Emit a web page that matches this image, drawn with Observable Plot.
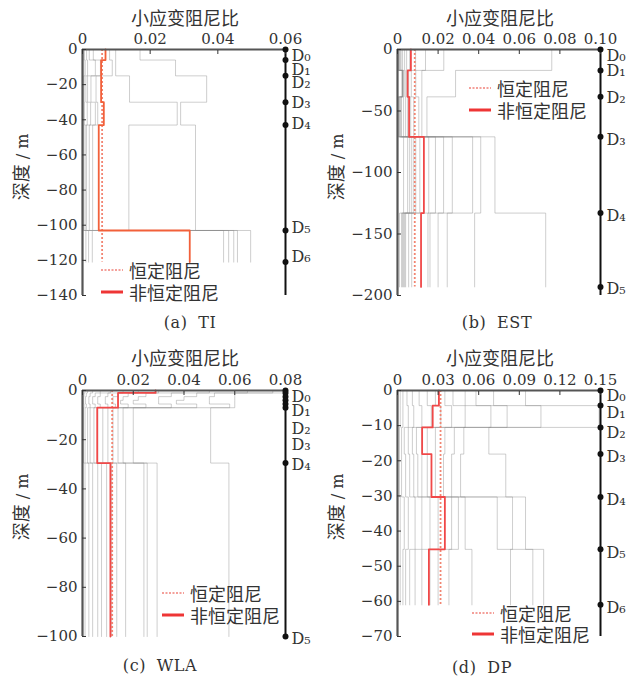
<!DOCTYPE html>
<html><head><meta charset="utf-8">
<script src="https://cdn.jsdelivr.net/npm/d3@7"></script>
<script src="https://cdn.jsdelivr.net/npm/@observablehq/plot@0.6"></script>
<style>
body{margin:0;background:#fff;}
#root{position:relative;width:631px;height:678px;overflow:hidden;background:#fff;}
.panel{position:absolute;}
.title{position:absolute;font-family:"Noto Sans CJK SC";font-size:18px;color:#333;transform:translate(-50%,-50%);white-space:nowrap;}
.ylab{position:absolute;font-family:"DejaVu Serif","Noto Sans CJK SC";font-size:16px;color:#333;transform:translate(-50%,-50%) rotate(-90deg);white-space:nowrap;}
.ylab .cjk{font-family:"Noto Sans CJK SC";font-size:18px;}
.cap{position:absolute;font-family:"DejaVu Serif";font-size:16px;color:#333;transform:translate(-50%,-50%);white-space:nowrap;word-spacing:5px;letter-spacing:0.6px;}
.leg{position:absolute;display:flex;align-items:center;font-family:"Noto Sans CJK SC";font-size:18px;color:#333;white-space:nowrap;transform:translateY(-50%);}
.leg svg{margin-right:6px;}
</style></head><body><div id="root"></div>
<script>
// ---------- (a) TI ----------
const tiBounds = [0, 6, 15, 30, 43, 103, 121];
const tiProfiles = [
  [0.017, 0.0275, 0.0367, 0.029, 0.0334, 0.0497],
  [0.0098, 0.0098, 0.0139, 0.028, 0.0137, 0.0458],
  [0.008, 0.0088, 0.004, 0.0045, 0.003, 0.0447],
  [0.0032, 0.0053, 0.0025, 0.0038, 0.002, 0.0432],
  [0.002, 0.0038, 0.0015, 0.0024, 0.0012, 0.0417],
  [0.0012, 0.0015, 0.001, 0.0014, 0.0008, 0.0029],
  [0.0006, 0.0008, 0.0005, 0.0006, 0.0004, 0.0018],
  [0.0003, 0.0004, 0.0003, 0.0003, 0.0002, 0.001]
];
const tiNonConst = [0.0068, 0.0055, 0.0055, 0.0063, 0.0048, 0.0317];
const tiConst = 0.0058;
const tiXTicks = [0, 0.02, 0.04, 0.06];
const tiYTicks = [0, -20, -40, -60, -80, -100, -120, -140];
const tiDDepths = [0, 6, 15, 30, 43, 103, 121];
const tiDLabelDepths = [2.7, 10.6, 18, 29.4, 41.4, 100.6, 117];
const tiDLabels = ["D₀", "D₁", "D₂", "D₃", "D₄", "D₅", "D₆"];

// ---------- (b) EST ----------
const estBounds = [0, 17, 38.5, 71, 133, 193];
const estProfiles = [
  [0.076, 0.0286, 0.0145, 0.048, 0.073],
  [0.0228, 0.012, 0.012, 0.041, 0.038],
  [0.0138, 0.009, 0.0105, 0.037, 0.0245],
  [0.0089, 0.0068, 0.008, 0.027, 0.02],
  [0.006, 0.0055, 0.0065, 0.0227, 0.016],
  [0.0045, 0.0045, 0.005, 0.0187, 0.015],
  [0.0035, 0.0038, 0.004, 0.0154, 0.007],
  [0.0025, 0.0032, 0.003, 0.011, 0.0055],
  [0.0018, 0.0028, 0.002, 0.009, 0.004],
  [0.0014, 0.0026, 0.0016, 0.008, 0.0035],
  [0.001, 0.0025, 0.0012, 0.007, 0.003],
  [0.0007, 0.0024, 0.0009, 0.006, 0.0025],
  [0.0005, 0.0023, 0.0006, 0.005, 0.002],
  [0.0002, 0.0023, 0.0002, 0.003, 0.001]
];
const estNonConst = [0.0066, 0.005, 0.0057, 0.013, 0.0116];
const estConst = 0.0085;
const estXTicks = [0, 0.02, 0.04, 0.06, 0.08, 0.10];
const estYTicks = [0, -50, -100, -150, -200];
const estDDepths = [0, 17, 38.5, 71, 133, 193];
const estDLabelDepths = [3.3, 15.4, 37.4, 71.5, 134, 193];
const estDLabels = ["D₀", "D₁", "D₂", "D₃", "D₄", "D₅"];

// ---------- (c) WLA ----------
const wlaBounds = [0, 1, 2.5, 4, 5.5, 7, 29.5, 100];
const wlaProfiles = [
  [0.08, 0.06, 0.06, 0.06, 0.06, 0.0505, 0.0577],
  [0.075, 0.052, 0.05, 0.05, 0.058, 0.02, 0.0294],
  [0.065, 0.045, 0.04, 0.037, 0.045, 0.016, 0.0255],
  [0.05, 0.035, 0.03, 0.03, 0.035, 0.014, 0.0242],
  [0.04, 0.025, 0.022, 0.02, 0.025, 0.012, 0.017],
  [0.03, 0.018, 0.016, 0.015, 0.018, 0.01, 0.0135],
  [0.022, 0.014, 0.012, 0.012, 0.013, 0.008, 0.0115],
  [0.016, 0.01, 0.009, 0.009, 0.01, 0.006, 0.0095],
  [0.011, 0.007, 0.006, 0.006, 0.007, 0.0045, 0.0075],
  [0.007, 0.005, 0.004, 0.004, 0.005, 0.003, 0.006],
  [0.004, 0.003, 0.0025, 0.0025, 0.003, 0.002, 0.004],
  [0.002, 0.0015, 0.0012, 0.0012, 0.0015, 0.001, 0.0025],
  [0.001, 0.0006, 0.0005, 0.0005, 0.0006, 0.0004, 0.001]
];
const wlaNonConst = [0.0288, 0.014, 0.014, 0.014, 0.014, 0.0058, 0.011];
const wlaConst = 0.0117;
const wlaXTicks = [0, 0.02, 0.04, 0.06, 0.08];
const wlaYTicks = [0, -20, -40, -60, -80, -100];
const wlaDDepths = [0, 1, 2.5, 4, 5.5, 7, 29.5, 100];
const wlaDLabelDepths = [1.6, 7.4, 14.9, 21.2, 29.5, 100];
const wlaDLabels = ["D₀", "D₁", "D₂", "D₃", "D₄", "D₅"];

// ---------- (d) DP ----------
const dpBounds = [0, 4.3, 10.5, 18.1, 30.3, 45.2, 61];
const dpProfiles = [
  [0.0946, 0.149, 0.0675, 0.08, 0.0946, 0.108],
  [0.071, 0.106, 0.049, 0.0466, 0.0737, 0.1],
  [0.058, 0.081, 0.042, 0.04, 0.085, 0.0835],
  [0.05, 0.069, 0.035, 0.034, 0.05, 0.055],
  [0.041, 0.05, 0.028, 0.028, 0.045, 0.038],
  [0.035, 0.04, 0.022, 0.022, 0.04, 0.03],
  [0.028, 0.032, 0.018, 0.018, 0.03, 0.024],
  [0.022, 0.025, 0.014, 0.015, 0.024, 0.018],
  [0.016, 0.018, 0.011, 0.012, 0.018, 0.013],
  [0.011, 0.012, 0.008, 0.009, 0.013, 0.009],
  [0.007, 0.008, 0.005, 0.006, 0.008, 0.006],
  [0.004, 0.004, 0.003, 0.003, 0.005, 0.004],
  [0.002, 0.002, 0.0015, 0.0015, 0.002, 0.002]
];
const dpNonConst = [0.0306, 0.026, 0.0182, 0.0251, 0.035, 0.0232];
const dpConst = 0.0318;
const dpXTicks = [0, 0.03, 0.06, 0.09, 0.12, 0.15];
const dpYTicks = [0, -10, -20, -30, -40, -50, -60, -70];
const dpDDepths = [0, 4.3, 10.5, 18.1, 30.3, 45.2, 61];
const dpDLabelDepths = [0.9, 5.7, 11.4, 18.3, 30.6, 45.7, 61.4];
const dpDLabels = ["D₀", "D₁", "D₂", "D₃", "D₄", "D₅", "D₆"];

// ---------- text ----------
const titleText = "小应变阻尼比";
const legendConst = "恒定阻尼";
const legendNonConst = "非恒定阻尼";
const captions = ["(a) TI", "(b) EST", "(c) WLA", "(d) DP"];

const root = document.getElementById("root");
const fmtX = d => d === 0 ? "0" : d.toFixed(2);
const fmtY = d => d === 0 ? "0" : "−" + Math.abs(d);

function addDiv(cls, html, left, top) {
  const el = document.createElement("div");
  el.className = cls;
  el.innerHTML = html;
  el.style.left = left + "px";
  el.style.top = top + "px";
  root.appendChild(el);
  return el;
}

function legendSwatch(dashed) {
  return dashed
    ? `<svg width="22" height="6"><line x1="0" y1="3" x2="22" y2="3" stroke="#f4a09a" stroke-width="2" stroke-dasharray="2,1.5"/></svg>`
    : `<svg width="22" height="6"><line x1="0" y1="3" x2="22" y2="3" stroke="#ee3535" stroke-width="3"/></svg>`;
}

function panel(o) {
  const W = o.width, H = 310, mT = o.mT, mL = 82, fw = 203, fh = 246;
  const bottom = o.bounds[o.bounds.length - 1];
  const gray = o.profiles.flatMap((vals, k) => vals.flatMap((v, i) => [
    {k, x: v, y: -o.bounds[i]}, {k, x: v, y: -o.bounds[i + 1]}
  ]));
  const red = o.nonConst.flatMap((v, i) => [
    {x: v, y: -o.bounds[i]}, {x: v, y: -o.bounds[i + 1]}
  ]);
  const xMax = o.xTicks[o.xTicks.length - 1];
  const yMin = o.yTicks[o.yTicks.length - 1];
  const svg = Plot.plot({
    width: W, height: H,
    marginTop: mT, marginLeft: mL, marginRight: W - mL - fw, marginBottom: H - mT - fh,
    style: {fontFamily: "DejaVu Serif", fontSize: "15px", color: "#333", background: "transparent", overflow: "visible"},
    x: {domain: [0, xMax]},
    y: {domain: [yMin, 0]},
    marks: [
      Plot.line(gray, {x: "x", y: "y", z: "k", stroke: "#8a8a8a", strokeOpacity: 0.42, strokeWidth: 1}),
      Plot.ruleX([o.constVal], {y1: 0, y2: -bottom, stroke: "#f28572", strokeWidth: 1.8, strokeDasharray: "2,2"}),
      Plot.line(red, {x: "x", y: "y", stroke: o.redColor, strokeWidth: 1.8}),
      Plot.ruleX([0], {stroke: "#555", strokeWidth: 2.2}),
      Plot.ruleY([0], {stroke: "#555", strokeWidth: 2}),
      Plot.ruleX([xMax], {stroke: "#111", strokeWidth: 2}),
      Plot.axisX({anchor: "top", ticks: o.xTicks, tickFormat: fmtX, tickSize: -4, tickPadding: 10, label: null}),
      Plot.axisY({anchor: "left", ticks: o.yTicks, tickFormat: fmtY, tickSize: -4, tickPadding: 9, label: null}),
      Plot.dot(o.dDepths, {x: () => xMax, y: d => -d, r: 3, fill: "#111"}),
      Plot.text(o.dLabels, {x: () => xMax, y: (d, i) => -o.dLabelDepths[i], text: d => d, textAnchor: "start", dx: 6, dy: 2, fontSize: 16, fontFamily: "DejaVu Serif", fill: "#333"})
    ]
  });
  const wrap = document.createElement("div");
  wrap.className = "panel";
  wrap.style.left = o.left + "px";
  wrap.style.top = o.top + "px";
  wrap.appendChild(svg);
  root.appendChild(wrap);

  addDiv("title", titleText, o.left + o.titleX, o.top + o.titleY);
  addDiv("ylab", `<span class="cjk">深度</span> / m`, o.left + 20, o.top + o.ylabY);
  addDiv("cap", o.caption, o.capX, o.capY);
  addDiv("leg", legendSwatch(true) + legendConst, o.legX, o.legY1);
  addDiv("leg", legendSwatch(false) + legendNonConst, o.legX, o.legY2);
}

panel({left: 0, top: 0, width: 315, mT: 49, bounds: tiBounds, profiles: tiProfiles, nonConst: tiNonConst, constVal: tiConst, redColor: "#f2603a",
  xTicks: tiXTicks, yTicks: tiYTicks, dDepths: tiDDepths, dLabelDepths: tiDLabelDepths, dLabels: tiDLabels,
  titleX: 185, titleY: 17, ylabY: 167, caption: captions[0], capX: 190, capY: 322, legX: 101, legY1: 270, legY2: 292});
panel({left: 315, top: 0, width: 316, mT: 49, bounds: estBounds, profiles: estProfiles, nonConst: estNonConst, constVal: estConst, redColor: "#f04848",
  xTicks: estXTicks, yTicks: estYTicks, dDepths: estDDepths, dLabelDepths: estDLabelDepths, dLabels: estDLabels,
  titleX: 185, titleY: 17, ylabY: 167, caption: captions[1], capX: 497, capY: 322, legX: 469, legY1: 88, legY2: 110});
panel({left: 0, top: 340, width: 315, mT: 50, bounds: wlaBounds, profiles: wlaProfiles, nonConst: wlaNonConst, constVal: wlaConst, redColor: "#f04848",
  xTicks: wlaXTicks, yTicks: wlaYTicks, dDepths: wlaDDepths, dLabelDepths: wlaDLabelDepths, dLabels: wlaDLabels,
  titleX: 185, titleY: 17, ylabY: 167, caption: captions[2], capX: 160, capY: 665, legX: 162, legY1: 593, legY2: 615});
panel({left: 315, top: 340, width: 316, mT: 50, bounds: dpBounds, profiles: dpProfiles, nonConst: dpNonConst, constVal: dpConst, redColor: "#f04848",
  xTicks: dpXTicks, yTicks: dpYTicks, dDepths: dpDDepths, dLabelDepths: dpDLabelDepths, dLabels: dpDLabels,
  titleX: 185, titleY: 17, ylabY: 167, caption: captions[3], capX: 482, capY: 667, legX: 472, legY1: 613, legY2: 634});
</script></body></html>
